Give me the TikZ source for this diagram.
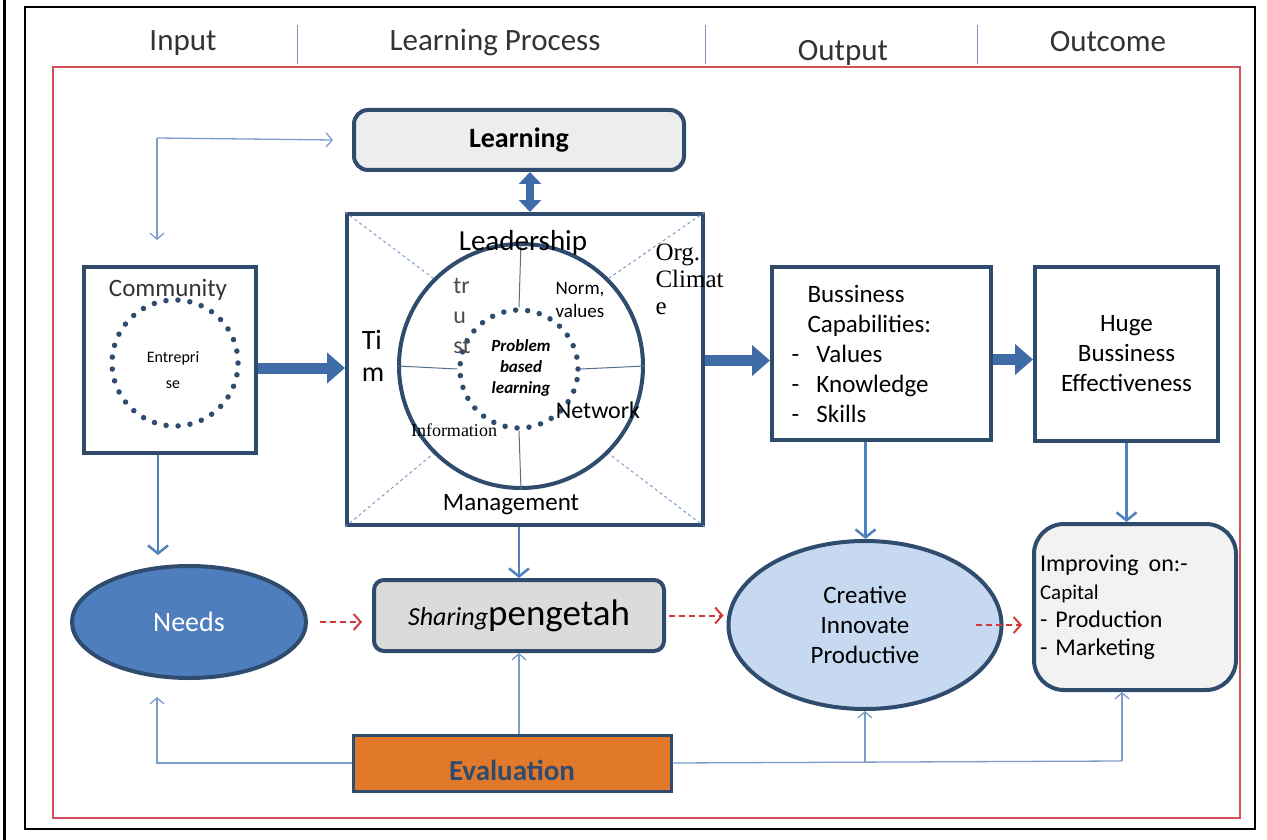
\documentclass[tikz,border=0pt]{standalone}
\usepackage{fontspec}
\setmainfont{Carlito}
\newfontfamily\serf{Liberation Serif}
\usetikzlibrary{arrows.meta,shapes.geometric}
\definecolor{navy}{HTML}{2F4B6E}
\definecolor{blkblue}{HTML}{3F6CA6}
\definecolor{midblue}{HTML}{4F81BD}
\definecolor{thinblue}{HTML}{7C9DCB}
\definecolor{redframe}{HTML}{D4505C}
\definecolor{dashred}{HTML}{D03A3A}
\definecolor{needfill}{HTML}{4E7EBE}
\definecolor{crefill}{HTML}{C6D9F0}
\definecolor{evalor}{HTML}{E2782A}
\begin{document}
\begin{tikzpicture}[x=1pt,y=-1pt,
    box/.style={draw=navy,line width=4pt,fill=white},
    rbox/.style={box,rounded corners=14pt},
    body/.style={font=\fontsize{25}{30}\selectfont},
    head/.style={font=\fontsize{31}{34}\selectfont,text=black!80},
    blockarr/.style={line width=11pt,blkblue,-{Triangle[length=18pt,width=30pt]}},
    downarr/.style={line width=2.5pt,midblue,-{Straight Barb[length=8pt,width=20pt]}},
    thinln/.style={line width=1.3pt,thinblue},
    thinarr/.style={thinln,-{Straight Barb[length=6pt,width=14pt]}},
    redarr/.style={line width=2pt,dashred,dash pattern=on 6pt off 4pt,-{Straight Barb[length=7pt,width=16pt]}},
    dotring/.style={circle,draw=navy,line width=5.5pt,line cap=round,dash pattern=on 0pt off 12pt}]
  \useasboundingbox (0,0) rectangle (1267,840);
  \draw[line width=3pt] (4,0) -- (4,840);
  \draw[line width=2pt] (25,7) rectangle (1255,829);
  \draw[redframe,line width=2.5pt] (53,67) rectangle (1240,818);
  \foreach \xx in {297,705,977}
    \draw[thinblue!80!gray,line width=1pt] (\xx,25) -- (\xx,64);
  \node[head] (hin) at (183,43) {Input};
  \node[head] (hlp) at (495,43) {Learning Process};
  \node[head] (hout) at (843,53) {Output};
  \node[head] (hoc) at (1108,42) {Outcome};

  \node[rbox,fill=black!7,minimum width=330,minimum height=60,font=\fontsize{28}{30}\selectfont] (learn) at (519,140) {\textbf{Learning}};
  \node[box,minimum width=356,minimum height=311] (sq) at (525,369.5) {};
  \node[circle,draw=navy,line width=4pt,minimum size=244] (circ) at (521,366) {};
  \node[dotring,minimum size=118] (pbl) at (519,369) {};
  \foreach \cc/\aa in {north west/135,north east/45,south west/225,south east/315}
    \draw[thinblue,line width=1pt,dashed] (sq.\cc) -- (circ.\aa);
  \draw[navy!80,line width=1pt] (circ.north) -- (pbl.north) (circ.south) -- (pbl.south)
    (circ.west) -- (pbl.west) (circ.east) -- (pbl.east);
  \node[font=\fontsize{29}{30}\selectfont] (lead) at (523,243) {Leadership};
  \node[font=\fontsize{28}{32}\selectfont,align=left] (tim) at (373,356) {Ti\\m};
  \node[font=\fontsize{24}{30}\selectfont,align=left,text=black!70] (trust) at (462,316) {tr\\u\\st};
  \node[font=\fontsize{19}{23}\selectfont,align=left] (norm) at (580,300) {Norm,\\values};
  \node[font=\fontsize{17}{21}\selectfont\bfseries\itshape,align=center] (pbltx) at (521,368) {Problem\\based\\learning};
  \node[font=\fontsize{24}{26}\selectfont] (net) at (598,410) {Network};
  \node[font=\serf\fontsize{18}{20}\selectfont] (info) at (454,430) {Information};
  \node[font=\fontsize{25}{28}\selectfont] (mgmt) at (511,505) {Management};
  \node[font=\serf\fontsize{25}{27}\selectfont,align=left,anchor=north west] (org) at (652,240) {Org.\\Climat\\e};

  \node[box,minimum width=172,minimum height=186] (comm) at (170,360) {};
  \node[font=\fontsize{25}{26}\selectfont,text=black!80] (commtx) at (168,290) {Community};
  \node[dotring,minimum size=126] (ent) at (175,363) {};
  \node[font=\fontsize{16}{26}\selectfont,align=center] (enttx) at (173,370) {Entrepri\\se};

  \node[box,minimum width=219,minimum height=173,body,align=left,text width=180,inner xsep=18] (biz) at (881.5,353.5)
    {\hspace*{16pt}Bussiness\\\hspace*{16pt}Capabilities:\\\makebox[25pt][l]{-}Values\\\makebox[25pt][l]{-}Knowledge\\\makebox[25pt][l]{-}Skills};
  \node[box,minimum width=183,minimum height=174,body,align=center] (huge) at (1126.5,354) {Huge\\Bussiness\\Effectiveness};

  \node[ellipse,draw=navy,line width=4pt,fill=needfill,minimum width=234,minimum height=112,font=\fontsize{28}{30}\selectfont,text=white] (needs) at (189,622) {Needs};
  \node[rbox,rounded corners=10pt,fill=black!14,minimum width=290,minimum height=71] (share) at (519,615.5)
    {{\fontsize{26}{30}\selectfont\itshape Sharing}{\fontsize{37}{40}\selectfont pengetah}};
  \node[ellipse,draw=navy,line width=4pt,fill=crefill,minimum width=273,minimum height=168,body,align=center] (cre) at (865,625)
    {Creative\\Innovate\\Productive};
  \node[rbox,rounded corners=30pt,fill=black!5,minimum width=202,minimum height=166,align=left,text width=190,inner xsep=6,
    font=\fontsize{24}{28}\selectfont] (impr) at (1135,607)
    {Improving\hspace{10pt}on:-\\{\fontsize{21}{28}\selectfont Capital}\\- Production\\- Marketing};
  \node[draw=navy,line width=3pt,fill=evalor,minimum width=318,minimum height=56] (eval) at (512,763) {};
  \node[font=\fontsize{29}{30}\selectfont\bfseries,text=navy] (evaltx) at (512,770) {Evaluation};

  \draw[blockarr] ([yshift=-8]comm.east) -- ([yshift=-8]comm.east -| sq.west);
  \draw[blockarr] ([yshift=9]sq.east) -- ([yshift=9]sq.east -| biz.west);
  \draw[blockarr] ([yshift=-6]biz.east) -- ([yshift=-6]biz.east -| huge.west);
  \draw[blkblue,line width=8pt,{Triangle[length=12pt,width=22pt]}-{Triangle[length=12pt,width=22pt]}]
    ([xshift=11]learn.south) -- ([xshift=11]learn.south |- sq.north);
  \coordinate (lcorner) at (157,138);
  \draw[thinarr] (lcorner) -- ([xshift=-19]learn.west);
  \draw[thinarr] (lcorner) -- ([yshift=25]comm.north -| lcorner);

  \draw[downarr] ([xshift=-12]comm.south) -- ([xshift=-12]comm.south |- 0,555);
  \draw[downarr] ([xshift=-6]sq.south) -- ([xshift=-6]sq.south |- share.north);
  \draw[downarr] ([xshift=-16]biz.south) -- ([xshift=-16]biz.south |- cre.north);
  \draw[downarr] (huge.south) -- (huge.south |- impr.north);

  \draw[redarr,shorten <=12pt,shorten >=10pt] (needs.east) -- (needs.east -| share.west);
  \draw[redarr,shorten <=3pt,shorten >=3pt] (share.east) -- (share.east -| cre.west);
  \draw[redarr,shorten <=-28pt,shorten >=10pt] (cre.east) -- (cre.east -| impr.west);

  \coordinate (evright) at (1122,761);
  \draw[thinarr] (share.south |- eval.north) -- (share.south);
  \draw[thinarr] (eval.west) -| ([xshift=-32,yshift=-17]needs.south);
  \draw[thinln] (eval.east) -- (evright);
  \draw[thinarr] (evright) -- (evright |- impr.south);
  \draw[thinarr] (eval.east -| cre.south) -- (cre.south);
\end{tikzpicture}
\end{document}
